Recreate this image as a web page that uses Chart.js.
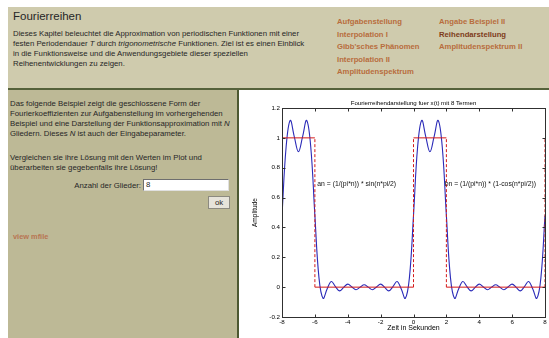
<!DOCTYPE html>
<html>
<head>
<meta charset="utf-8">
<title>Fourierreihen</title>
<script src="https://cdn.jsdelivr.net/npm/chart.js@4.4.1/dist/chart.umd.min.js"></script>
<style>
  body {
    margin: 0;
    width: 549px;
    height: 338px;
    overflow: hidden;
    position: relative;
    background: #fff;
    font-family: "Liberation Sans", Arial, sans-serif;
    color: #262626;
  }
  #head {
    position: absolute;
    left: 8px;
    top: 7px;
    width: 541px;
    height: 81px;
    background: #cfcbad;
    border-bottom: 2px solid #55613a;
  }
  #head h1 {
    position: absolute;
    left: 5px;
    top: 3px;
    margin: 0;
    font-size: 11.5px;
    line-height: 13px;
    font-weight: normal;
  }
  #intro {
    position: absolute;
    left: 5px;
    top: 22px;
    font-size: 7.8px;
    line-height: 10px;
    white-space: nowrap;
  }
  .nav {
    position: absolute;
    top: 9px;
    font-size: 7.7px;
    line-height: 12.5px;
    font-weight: bold;
    color: #b86d3d;
    white-space: nowrap;
  }
  .nav .cur { color: #7e3b1a; }
  #left {
    position: absolute;
    left: 8px;
    top: 90px;
    width: 229px;
    height: 248px;
    background: #bdb996;
    border-right: 2px solid #4d5831;
  }
  .txt {
    position: absolute;
    left: 2px;
    font-size: 7.8px;
    line-height: 10px;
    white-space: nowrap;
  }
  #lbl {
    position: absolute;
    right: 96px;
    top: 91px;
    font-size: 7.8px;
    line-height: 10px;
  }
  #num {
    position: absolute;
    left: 135px;
    top: 89px;
    width: 82px;
    height: 10px;
    background: #fff;
    border-top: 1px solid #6e6e6e;
    border-left: 1px solid #6e6e6e;
    border-right: 1px solid #e0e0e0;
    border-bottom: 1px solid #e0e0e0;
    font-size: 7.8px;
    line-height: 10px;
    padding-left: 2px;
  }
  #ok {
    position: absolute;
    left: 200px;
    top: 106px;
    width: 20px;
    height: 11px;
    background: #e6e3da;
    border: 1px solid #8c8a80;
    font-size: 7.8px;
    line-height: 11px;
    text-align: center;
  }
  #mfile {
    position: absolute;
    left: 5px;
    top: 142px;
    font-size: 7.4px;
    font-weight: bold;
    color: #b87552;
  }
  #plot {
    position: absolute;
    left: 240px;
    top: 91px;
  }
</style>
</head>
<body>
<div id="head">
  <h1>Fourierreihen</h1>
  <div id="intro">
    Dieses Kapitel beleuchtet die Approximation von periodischen Funktionen mit einer<br>
    festen Periodendauer <i>T</i> durch <i>trigonometrische</i> Funktionen. Ziel ist es einen Einblick<br>
    in die Funktionsweise und die Anwendungsgebiete dieser speziellen<br>
    Reihenentwicklungen zu zeigen.
  </div>
  <div class="nav" style="left:329px">
    Aufgabenstellung<br>
    Interpolation I<br>
    Gibb'sches Phänomen<br>
    Interpolation II<br>
    Amplitudenspektrum
  </div>
  <div class="nav" style="left:431px">
    Angabe Beispiel II<br>
    <span class="cur">Reihendarstellung</span><br>
    Amplitudenspektrum II
  </div>
</div>

<div id="left">
  <div class="txt" style="top:9px">
    Das folgende Beispiel zeigt die geschlossene Form der<br>
    Fourierkoeffizienten zur Aufgabenstellung im vorhergehenden<br>
    Beispiel und eine Darstellung der Funktionsapproximation mit <i>N</i><br>
    Gliedern. Dieses <i>N</i> ist auch der Eingabeparameter.
  </div>
  <div class="txt" style="top:63px">
    Vergleichen sie ihre Lösung mit den Werten im Plot und<br>
    überarbeiten sie gegebenfalls ihre Lösung!
  </div>
  <div id="lbl">Anzahl der Glieder:</div>
  <div id="num">8</div>
  <div id="ok">ok</div>
  <div id="mfile">view mfile</div>
</div>

<canvas id="plot" width="309" height="247"></canvas>

<script>
// time axis in seconds
const timeSec = [
  -8, -7.75, -7.5, -7.25, -7, -6.75, -6.5, -6.25, -6, -5.75, -5.5, -5.25, -5,
  -4.75, -4.5, -4.25, -4, -3.75, -3.5, -3.25, -3, -2.75, -2.5, -2.25, -2,
  -1.75, -1.5, -1.25, -1, -0.75, -0.5, -0.25, 0, 0.25, 0.5, 0.75, 1,
  1.25, 1.5, 1.75, 2, 2.25, 2.5, 2.75, 3, 3.25, 3.5, 3.75, 4,
  4.25, 4.5, 4.75, 5, 5.25, 5.5, 5.75, 6, 6.25, 6.5, 6.75, 7,
  7.25, 7.5, 7.75, 8
];
// fourier approximation (blue)
const approxValues = [
  0.480, 0.939, 1.117, 1.007, 0.908, 1.007, 1.117, 0.939, 0.480, 0.062, -0.075, -0.011, 0.038,
  0.004, -0.025, -0.002, 0.020, 0.001, -0.017, 0.000, 0.016, 0.000, -0.017, 0.001, 0.020,
  -0.002, -0.025, 0.004, 0.038, -0.011, -0.075, 0.062, 0.480, 0.939, 1.117, 1.007, 0.908,
  1.007, 1.117, 0.939, 0.480, 0.062, -0.075, -0.011, 0.038, 0.004, -0.025, -0.002, 0.020,
  0.001, -0.017, 0.000, 0.016, 0.000, -0.017, 0.001, 0.020, -0.002, -0.025, 0.004, 0.038,
  -0.011, -0.075, 0.062, 0.480
];
// original pulse signal (red)
const edgeTimes = [-8, -6, 0, 2, 8];
const pulseLevels = [1, 0, 1, 0];
const jumpTimes = [-6, 0, 2, 8];

const xTicks = [-8, -6, -4, -2, 0, 2, 4, 6, 8];
const xTickLabels = ["-8", "-6", "-4", "-2", "0", "2", "4", "6", "8"];
const yTicks = [-0.2, 0, 0.2, 0.4, 0.6, 0.8, 1, 1.2];
const yTickLabels = ["-0.2", "0", "0.2", "0.4", "0.6", "0.8", "1", "1.2"];

const noteTexts = ["an = (1/(pi*n)) * sin(n*pi/2)", "bn = (1/(pi*n)) * (1-cos(n*pi/2))"];
const noteX = [-5.85, 1.9];
const noteY = [0.69, 0.69];

const blueData = timeSec.map((t, i) => ({ x: t, y: approxValues[i] }));

const levelData = [];
for (let i = 0; i < pulseLevels.length; i++) {
  levelData.push({ x: edgeTimes[i], y: pulseLevels[i] });
  levelData.push({ x: edgeTimes[i + 1], y: pulseLevels[i] });
  levelData.push({ x: edgeTimes[i + 1], y: null });
}
const jumpData = [];
jumpTimes.forEach(t => {
  jumpData.push({ x: t, y: 0 });
  jumpData.push({ x: t, y: 1 });
  jumpData.push({ x: t, y: null });
});

const font = '"Liberation Sans", Arial, sans-serif';

// matlab like box with inward ticks + text notes
const matlabAxes = {
  id: "matlabAxes",
  afterDatasetsDraw(chart) {
    const { ctx, chartArea: a, scales } = chart;
    const x = scales.x, y = scales.y;
    ctx.save();
    ctx.fillStyle = "#111";
    ctx.font = "6.8px " + font;
    ctx.textAlign = "left";
    ctx.textBaseline = "middle";
    noteTexts.forEach((s, i) => {
      ctx.fillText(s, x.getPixelForValue(noteX[i]), y.getPixelForValue(noteY[i]));
    });

    ctx.strokeStyle = "#303030";
    ctx.lineWidth = 1;
    const L = Math.round(a.left) + 0.5, R = Math.round(a.right) + 0.5;
    const T = Math.round(a.top) + 0.5, B = Math.round(a.bottom) + 0.5;
    ctx.strokeRect(L, T, R - L, B - T);
    ctx.beginPath();
    xTicks.forEach(v => {
      const px = Math.round(x.getPixelForValue(v)) + 0.5;
      ctx.moveTo(px, B); ctx.lineTo(px, B - 3);
      ctx.moveTo(px, T); ctx.lineTo(px, T + 3);
    });
    yTicks.forEach(v => {
      const py = Math.round(y.getPixelForValue(v)) + 0.5;
      ctx.moveTo(L, py); ctx.lineTo(L + 3, py);
      ctx.moveTo(R, py); ctx.lineTo(R - 3, py);
    });
    ctx.stroke();
    ctx.restore();
  }
};

const chart = new Chart(document.getElementById("plot"), {
  type: "line",
  data: {
    datasets: [
      {
        data: jumpData,
        borderColor: "#d41a1a",
        borderWidth: 1,
        borderDash: [3, 2],
        pointRadius: 0,
        spanGaps: false,
        order: 1
      },
      {
        data: levelData,
        borderColor: "#d41a1a",
        borderWidth: 1,
        pointRadius: 0,
        spanGaps: false,
        order: 2
      },
      {
        data: blueData,
        borderColor: "#2a2ab8",
        borderWidth: 1.1,
        pointRadius: 0,
        tension: 0.4,
        order: 3
      }
    ]
  },
  options: {
    responsive: false,
    devicePixelRatio: 1,
    animation: false,
    layout: { padding: { left: 0, right: 4, top: 0, bottom: 0 } },
    scales: {
      x: {
        type: "linear",
        min: -8,
        max: 8,
        afterBuildTicks: s => { s.ticks = xTicks.map(v => ({ value: v })); },
        afterFit: s => { s.height = 21; },
        grid: { display: false, drawTicks: false },
        border: { display: false },
        ticks: {
          autoSkip: false,
          maxRotation: 0,
          padding: 2,
          color: "#000",
          font: { family: font, size: 6.2 },
          callback: (v, i) => xTickLabels[i]
        },
        title: {
          display: true,
          text: "Zeit in Sekunden",
          color: "#000",
          font: { family: font, size: 7 },
          padding: { top: 0, bottom: 5.5 }
        }
      },
      y: {
        min: -0.2,
        max: 1.2,
        afterBuildTicks: s => { s.ticks = yTicks.map(v => ({ value: v })); },
        afterFit: s => { s.width = 42; },
        grid: { display: false, drawTicks: false },
        border: { display: false },
        ticks: {
          autoSkip: false,
          padding: 2,
          color: "#000",
          font: { family: font, size: 6.2 },
          callback: (v, i) => yTickLabels[i]
        },
        title: {
          display: true,
          text: "Amplitude",
          color: "#000",
          font: { family: font, size: 6.5 },
          padding: { top: 11.3, bottom: 0 }
        }
      }
    },
    plugins: {
      legend: { display: false },
      tooltip: { enabled: false },
      title: {
        display: true,
        fullSize: false,
        text: "Fourierreihendarstellung fuer x(t) mit 8 Termen",
        color: "#000",
        font: { family: font, size: 6.1, weight: "normal" },
        padding: { top: 8.3, bottom: 1.4 }
      }
    }
  },
  plugins: [matlabAxes]
});
</script>
</body>
</html>
